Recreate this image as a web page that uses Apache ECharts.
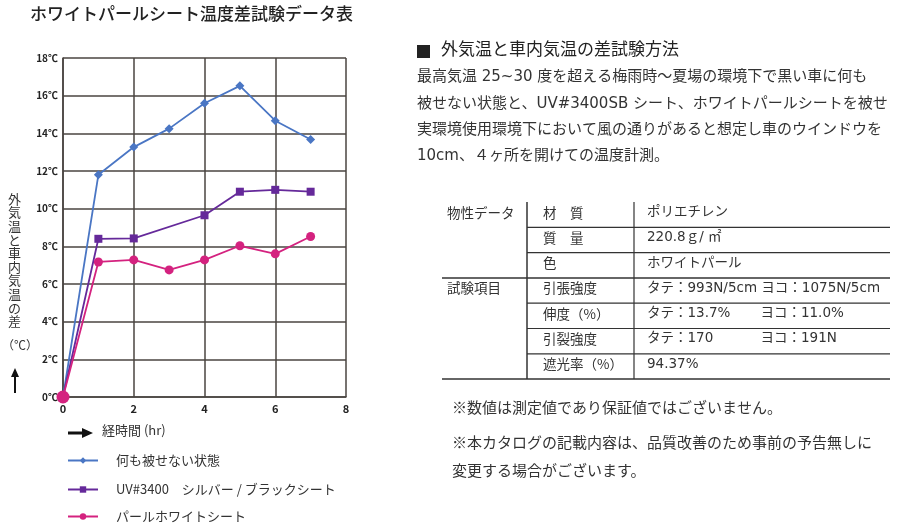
<!DOCTYPE html>
<html>
<head>
<meta charset="utf-8">
<script src="https://cdn.jsdelivr.net/npm/echarts@6/dist/echarts.min.js"></script>
<style>
  html, body { margin: 0; padding: 0; background: #fff; }
  #chart { width: 908px; height: 528px; }
</style>
</head>
<body>
<div id="chart"></div>
<script>
// 経過時間 (hr) と温度差 (℃)
const plainHours = [0, 1, 2, 3, 4, 5, 6, 7];
const plainTemps = [0, 11.8, 13.27, 14.25, 15.6, 16.52, 14.67, 13.67];
const uvHours = [0, 1, 2, 4, 5, 6, 7];
const uvTemps = [0, 8.4, 8.42, 9.65, 10.9, 11.0, 10.9];
const pearlHours = [0, 1, 2, 3, 4, 5, 6, 7];
const pearlTemps = [0, 7.17, 7.28, 6.75, 7.28, 8.03, 7.6, 8.52];

const seriesNames = ['何も被せない状態', 'UV#3400　シルバー / ブラックシート', 'パールホワイトシート'];

const methodLines = [
	'最高気温 25~30 度を超える梅雨時～夏場の環境下で黒い車に何も',
	'被せない状態と、UV#3400SB シート、ホワイトパールシートを被せ',
	'実環境使用環境下において風の通りがあると想定し車のウインドウを',
	'10cm、４ヶ所を開けての温度計測。'
];

// 表: [区分, 項目, 値]
const tableRows = [
	['物性データ', '材　質', 'ポリエチレン'],
	['', '質　量', '220.8ｇ/ ㎡'],
	['', '色', 'ホワイトパール'],
	['試験項目', '引張強度', 'タテ：993N/5cm ヨコ：1075N/5cm'],
	['', '伸度（%）', 'タテ：13.7%       ヨコ：11.0%'],
	['', '引裂強度', 'タテ：170           ヨコ：191N'],
	['', '遮光率（%）', '94.37%']
];

const notes = [
	'※数値は測定値であり保証値ではございません。',
	'※本カタログの記載内容は、品質改善のため事前の予告無しに',
	'変更する場合がございます。'
];

function pairs(xs, ys) {
	return xs.map((x, i) => [x, ys[i]]);
}

const FONT = '"Noto Sans CJK JP", "Noto Sans", sans-serif';
const WIDE = '"DejaVu Sans", "Noto Sans CJK JP", sans-serif';
const GRID = '#4a4540';

var chart = echarts.init(document.getElementById('chart'));

var graphics = [];
// タイトル
graphics.push({ type: 'text', left: 30, top: 5, style: { text: 'ホワイトパールシート温度差試験データ表', font: '500 17px ' + FONT, fill: '#222' } });
// 縦軸名
graphics.push({ type: 'text', left: 8, top: 192, style: { text: '外気温と車内気温の差'.split('').join('\n'), font: '13px ' + FONT, fill: '#333', lineHeight: 13.6 } });
graphics.push({ type: 'text', left: 2, top: 339, style: { text: '（℃）', font: '12px ' + FONT, fill: '#333' } });
graphics.push({ type: 'polygon', shape: { points: [[15, 368], [11, 377], [14, 377], [14, 393], [16, 393], [16, 377], [19, 377]] }, style: { fill: '#111' } });
// 横軸名
graphics.push({ type: 'polygon', shape: { points: [[68, 431.5], [82, 431.5], [82, 428], [93, 433], [82, 438], [82, 434.5], [68, 434.5]] }, style: { fill: '#111' } });
graphics.push({ type: 'text', left: 102, top: 424, style: { text: '経時間 (hr)', font: '13px ' + FONT, fill: '#333' } });

// 試験方法
graphics.push({ type: 'rect', shape: { x: 417, y: 45, width: 13, height: 13 }, style: { fill: '#222' } });
graphics.push({ type: 'text', left: 441, top: 40, style: { text: '外気温と車内気温の差試験方法', font: '17px ' + FONT, fill: '#222' } });
methodLines.forEach((t, i) => {
	graphics.push({ type: 'text', left: 417, top: 70 + i * 26.3, style: { text: t, font: '15px ' + WIDE, fill: '#333' } });
});

// 表
var tTop = 202, rowH = 25.3, x0 = 442, x1 = 527, x2 = 634, x3 = 890;
tableRows.forEach((r, i) => {
	var cy = tTop + rowH * i + rowH / 2;
	if (r[0]) graphics.push({ type: 'text', left: 447, top: cy - 9, style: { text: r[0], font: '13.5px ' + FONT, fill: '#333' } });
	graphics.push({ type: 'text', left: 543, top: cy - 9, style: { text: r[1], font: '13.5px ' + FONT, fill: '#333' } });
	graphics.push({ type: 'text', left: 647, top: cy - 9, style: { text: r[2], font: '13.5px ' + WIDE, fill: '#333' } });
	var ly = tTop + rowH * (i + 1);
	var full = (i === 2 || i === tableRows.length - 1);
	graphics.push({ type: 'line', shape: { x1: full ? x0 : x1, y1: ly, x2: x3, y2: ly }, style: { stroke: '#333', lineWidth: full ? 1.5 : 1.2 } });
});
graphics.push({ type: 'line', shape: { x1: x1, y1: tTop, x2: x1, y2: tTop + rowH * tableRows.length }, style: { stroke: '#333', lineWidth: 1.5 } });
graphics.push({ type: 'line', shape: { x1: x2, y1: tTop, x2: x2, y2: tTop + rowH * tableRows.length }, style: { stroke: '#333', lineWidth: 1.2 } });

notes.forEach((t, i) => {
	graphics.push({ type: 'text', left: 452, top: [400, 435, 463][i], style: { text: t, font: '15px ' + FONT, fill: '#333' } });
});

function legendAt(name, top) {
	return {
		orient: 'vertical', left: 62, top: top, itemWidth: 30, itemHeight: 8,
		textStyle: { fontSize: 13, color: '#333', padding: [0, 0, 0, 13] },
		data: [name]
	};
}

var option = {
	animation: false,
	textStyle: { fontFamily: FONT },
	grid: { left: 63, right: 562, top: 58, bottom: 131, containLabel: false },
	legend: [
		legendAt(seriesNames[0], 449),
		legendAt(seriesNames[1], 478),
		legendAt(seriesNames[2], 505)
	],
	xAxis: {
		type: 'value', min: 0, max: 8, interval: 2,
		axisLine: { show: true, lineStyle: { color: GRID, width: 1.5 } },
		axisTick: { show: false },
		splitLine: { show: true, lineStyle: { color: GRID, width: 1.5 } },
		axisLabel: { color: '#222', fontSize: 11, fontWeight: 'bold', margin: 6 }
	},
	yAxis: {
		type: 'value', min: 0, max: 18, interval: 2,
		axisLine: { show: true, lineStyle: { color: GRID, width: 1.5 } },
		axisTick: { show: false },
		splitLine: { show: true, lineStyle: { color: GRID, width: 1.5 } },
		axisLabel: { color: '#222', fontSize: 10, fontWeight: 'bold', margin: 5, formatter: '{value}℃' }
	},
	series: [
		{
			name: seriesNames[0], type: 'line', data: pairs(plainHours, plainTemps),
			symbol: 'diamond', symbolSize: 9, color: '#4a76c4',
			lineStyle: { width: 1.8 }
		},
		{
			name: seriesNames[1], type: 'line', data: pairs(uvHours, uvTemps),
			symbol: 'rect', symbolSize: 8, color: '#65299a',
			lineStyle: { width: 1.8 }
		},
		{
			name: seriesNames[2], type: 'line', data: pairs(pearlHours, pearlTemps),
			symbol: 'circle', symbolSize: (v) => v[0] === 0 ? 13 : 9, color: '#d4227f',
			lineStyle: { width: 1.8 }
		}
	],
	graphic: graphics
};

chart.setOption(option);
</script>
</body>
</html>
